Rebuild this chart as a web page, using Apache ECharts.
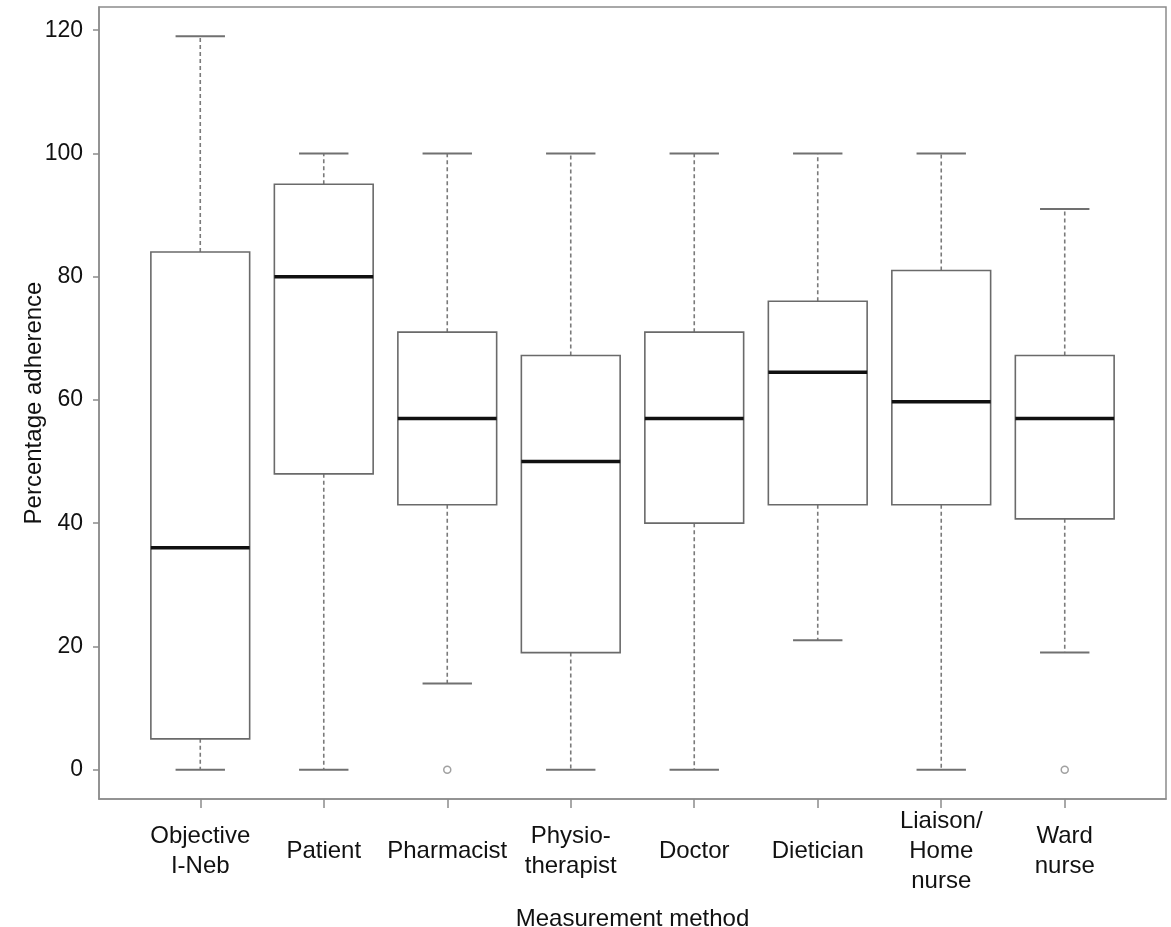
<!DOCTYPE html>
<html>
<head>
<meta charset="utf-8">
<script src="https://cdn.jsdelivr.net/npm/echarts@6/dist/echarts.min.js"></script>
<style>
html,body{margin:0;padding:0;background:#fff;}
#chart{width:1171px;height:927px;}
</style>
</head>
<body>
<div id="chart"></div>
<script>
const categories = ["Objective\nI-Neb", "Patient", "Pharmacist", "Physio-\ntherapist", "Doctor", "Dietician", "Liaison/\nHome\nnurse", "Ward\nnurse"];
const lowWhisker = [0, 0, 14, 0, 0, 21, 0, 19];
const q1 = [5, 48, 43, 19, 40, 43, 43, 40.7];
const median = [36, 80, 57, 50, 57, 64.5, 59.7, 57];
const q3 = [84, 95, 71, 67.2, 71, 76, 81, 67.2];
const highWhisker = [119, 100, 100, 100, 100, 100, 100, 91];
const outlierGroup = [3, 8];
const outlierValue = [0, 0];
const yTicks = [0, 20, 40, 60, 80, 100, 120];

const positions = categories.map((c, i) => i + 1);
const boxData = positions.map((p, i) => [p, lowWhisker[i], q1[i], median[i], q3[i], highWhisker[i]]);
const outlierData = outlierGroup.map((g, i) => [g, outlierValue[i]]);

const FONT = '"Liberation Sans", Arial, sans-serif';
const frameColor = '#8c8c8c';
const lineColor = '#6a6a6a';

function renderItem(params, api) {
  const x = api.value(0);
  const lo = api.coord([x, api.value(1)]);
  const b1 = api.coord([x, api.value(2)]);
  const md = api.coord([x, api.value(3)]);
  const b3 = api.coord([x, api.value(4)]);
  const hi = api.coord([x, api.value(5)]);
  const bw = api.size([0.8, 0])[0];
  const cw = api.size([0.4, 0])[0];
  const cx = lo[0];
  const dashStyle = {stroke: '#7a7a7a', lineWidth: 1.6, lineDash: [4, 3], fill: null};
  const capStyle = {stroke: '#707070', lineWidth: 2, fill: null};
  return {
    type: 'group',
    children: [
      {type: 'line', shape: {x1: cx, y1: b3[1], x2: cx, y2: hi[1]}, style: dashStyle},
      {type: 'line', shape: {x1: cx, y1: b1[1], x2: cx, y2: lo[1]}, style: dashStyle},
      {type: 'line', shape: {x1: cx - cw / 2, y1: hi[1], x2: cx + cw / 2, y2: hi[1]}, style: capStyle},
      {type: 'line', shape: {x1: cx - cw / 2, y1: lo[1], x2: cx + cw / 2, y2: lo[1]}, style: capStyle},
      {type: 'rect', shape: {x: cx - bw / 2, y: b3[1], width: bw, height: b1[1] - b3[1]},
        style: {fill: '#fff', stroke: lineColor, lineWidth: 1.6}},
      {type: 'line', shape: {x1: cx - bw / 2, y1: md[1], x2: cx + bw / 2, y2: md[1]},
        style: {stroke: '#111', lineWidth: 3.5}}
    ]
  };
}

const chart = echarts.init(document.getElementById('chart'), null, {renderer: 'canvas'});
chart.setOption({
  animation: false,
  backgroundColor: '#fff',
  grid: {left: 99, right: 5, top: 7, bottom: 128, show: true, borderColor: frameColor, borderWidth: 1.5,
    backgroundColor: 'transparent', containLabel: false, outerBoundsMode: 'none'},
  xAxis: {
    type: 'value', min: 0.18, max: 8.82,
    name: 'Measurement method', nameLocation: 'middle', nameGap: 108, nameMoveOverlap: false,
    nameTextStyle: {fontFamily: FONT, fontSize: 24, color: '#111'},
    axisLine: {show: true, onZero: false, lineStyle: {color: frameColor, width: 1.5}},
    axisTick: {show: true, length: 9, customValues: positions, lineStyle: {color: frameColor, width: 1.5}},
    axisLabel: {show: true, customValues: positions, margin: 52, verticalAlign: 'middle', lineHeight: 30,
      fontFamily: FONT, fontSize: 24, color: '#111',
      formatter: v => categories[Math.round(v) - 1]},
    splitLine: {show: false}
  },
  yAxis: {
    type: 'value', min: -4.76, max: 123.76,
    name: 'Percentage adherence', nameLocation: 'middle', nameGap: 53, nameRotate: 90, nameMoveOverlap: false,
    nameTextStyle: {fontFamily: FONT, fontSize: 24, color: '#111'},
    axisLine: {show: true, onZero: false, lineStyle: {color: frameColor, width: 1.5}},
    axisTick: {show: true, length: 6, customValues: yTicks, lineStyle: {color: frameColor, width: 1.5}},
    axisLabel: {show: true, customValues: yTicks, margin: 16, fontFamily: FONT, fontSize: 23, color: '#111'},
    splitLine: {show: false}
  },
  series: [
    {type: 'custom', renderItem: renderItem, data: boxData, encode: {x: 0, y: [1, 2, 3, 4, 5]}, clip: false},
    {type: 'scatter', data: outlierData, symbol: 'circle', symbolSize: 7,
      itemStyle: {color: '#fff', borderColor: '#8a8a8a', borderWidth: 1.5}}
  ]
});
</script>
</body>
</html>
